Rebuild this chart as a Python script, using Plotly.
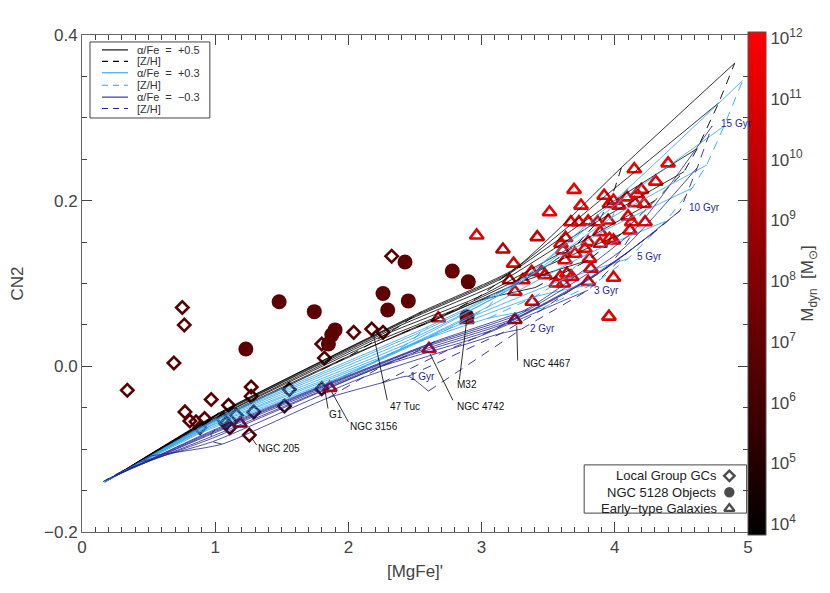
import plotly.graph_objects as go

FONT = "Liberation Sans"

# ---------------- data: Local Group globular clusters (open diamonds) ----------------
gc_x = [0.34, 0.69, 0.753, 0.768, 0.773, 0.81, 0.856, 0.886, 0.92, 0.97,
        1.06, 1.08, 1.10, 1.11, 1.16, 1.256, 1.27, 1.27, 1.29, 1.52,
        1.556, 1.80, 1.82, 1.80, 2.04, 2.175, 2.26, 2.325]
gc_y = [-0.029, 0.004, 0.071, 0.050, -0.055, -0.066, -0.067, -0.074, -0.063, -0.040,
        -0.064, -0.069, -0.047, -0.074, -0.059, -0.083, -0.025, -0.036, -0.055, -0.048,
        -0.028, 0.027, 0.010, -0.027, 0.041, 0.045, 0.041, 0.133]
gc_logm = [6.7, 6.7, 6.7, 6.7, 6.7, 6.6, 6.7, 6.5, 6.7, 6.7,
           6.2, 5.6, 6.3, 5.8, 5.5, 6.4, 6.6, 6.5, 5.4, 5.3,
           5.3, 6.7, 6.6, 5.6, 6.7, 6.5, 6.6, 6.7]

# ---------------- data: NGC 5128 objects (filled circles) ----------------
n5128_x = [1.23, 1.48, 1.744, 1.85, 1.875, 1.90, 2.26, 2.295, 2.425, 2.45, 2.78, 2.90, 2.89]
n5128_y = [0.021, 0.078, 0.066, 0.027, 0.038, 0.044, 0.088, 0.068, 0.126, 0.079, 0.115, 0.102, 0.060]
n5128_logm = [6.8, 6.8, 6.8, 6.8, 6.8, 6.8, 6.8, 6.8, 6.8, 6.9, 7.2, 6.9, 6.8]

# ---------------- data: early-type galaxies (open triangles) ----------------
etg_x = [4.40, 4.146, 4.307, 3.694, 3.92, 3.746, 3.51, 3.99, 4.03, 3.96,
         4.09, 4.165, 4.20, 4.22, 4.15, 3.67, 3.73, 3.80, 3.87, 3.95,
         4.10, 4.127, 4.227, 4.114, 3.418, 3.16, 3.63, 3.596, 3.61, 3.89,
         3.96, 3.80, 3.776, 3.89, 3.99, 3.70, 3.626, 3.81, 3.82, 3.24,
         3.376, 3.45, 3.476, 3.59, 3.64, 3.676, 3.614, 3.56, 3.80, 3.99,
         3.21, 3.31, 3.25, 3.38, 3.956, 3.25, 2.675, 2.89, 2.605, 2.963,
         1.86, 1.186]
etg_y = [0.245, 0.238, 0.223, 0.213, 0.206, 0.194, 0.186, 0.200, 0.194, 0.196,
         0.204, 0.208, 0.213, 0.196, 0.197, 0.174, 0.174, 0.175, 0.174, 0.176,
         0.181, 0.174, 0.174, 0.164, 0.156, 0.141, 0.155, 0.148, 0.140, 0.162,
         0.154, 0.150, 0.142, 0.148, 0.152, 0.136, 0.128, 0.130, 0.118, 0.124,
         0.114, 0.114, 0.110, 0.108, 0.112, 0.108, 0.100, 0.100, 0.102, 0.107,
         0.104, 0.104, 0.090, 0.078, 0.060, 0.056, 0.058, 0.056, 0.021, 0.158,
         -0.026, -0.069]
etg_logm = [11.6, 11.5, 11.4, 11.5, 11.3, 11.5, 11.4, 11.6, 11.5, 11.2,
            11.5, 11.6, 11.4, 11.5, 11.3, 11.5, 11.3, 11.5, 11.4, 11.2,
            11.4, 11.5, 11.6, 11.3, 10.3, 9.9, 11.2, 11.4, 11.5, 11.4,
            11.5, 11.3, 11.5, 11.2, 11.4, 11.5, 11.3, 11.5, 11.4, 11.0,
            11.2, 11.4, 11.1, 11.5, 11.4, 11.3, 11.5, 11.2, 11.4, 11.3,
            9.6, 11.0, 11.3, 10.6, 11.2, 9.0, 10.4, 9.2, 10.3, 11.3,
            10.2, 8.2]

# ---------------- data: SSP model grids ----------------
grid_ages = [1, 2, 3, 5, 8, 10, 12, 15]          # Gyr, one solid track each
grid_zh = [-2.25, -1.35, -0.33, 0.0, 0.35, 0.67]  # [Z/H] nodes along each track

# alpha/Fe = +0.5
p05_x = [[0.36, 0.88, 1.80, 2.40, 3.00, 3.40],
         [0.30, 0.90, 2.00, 2.65, 3.30, 3.80],
         [0.26, 0.92, 2.15, 2.82, 3.50, 4.05],
         [0.22, 0.95, 2.30, 2.98, 3.72, 4.30],
         [0.20, 0.98, 2.40, 3.10, 3.88, 4.52],
         [0.19, 1.00, 2.45, 3.15, 3.95, 4.62],
         [0.18, 1.02, 2.50, 3.20, 4.00, 4.78],
         [0.17, 1.05, 2.55, 3.25, 4.05, 4.90]]
p05_y = [[-0.122, -0.075, -0.004, 0.040, 0.080, 0.095],
         [-0.128, -0.072, 0.012, 0.056, 0.102, 0.128],
         [-0.132, -0.069, 0.026, 0.070, 0.122, 0.160],
         [-0.135, -0.066, 0.040, 0.084, 0.148, 0.200],
         [-0.137, -0.062, 0.050, 0.098, 0.176, 0.235],
         [-0.138, -0.060, 0.056, 0.106, 0.195, 0.263],
         [-0.139, -0.057, 0.061, 0.112, 0.215, 0.318],
         [-0.140, -0.055, 0.066, 0.118, 0.240, 0.366]]

# alpha/Fe = +0.3
p03_x = [[0.38, 0.90, 1.85, 2.50, 3.05, 3.45],
         [0.30, 0.92, 2.05, 2.75, 3.40, 3.85],
         [0.26, 0.94, 2.20, 2.90, 3.60, 4.10],
         [0.22, 0.97, 2.35, 3.05, 3.80, 4.38],
         [0.20, 0.99, 2.45, 3.12, 3.90, 4.58],
         [0.19, 1.00, 2.50, 3.20, 3.98, 4.69],
         [0.18, 1.03, 2.55, 3.25, 4.03, 4.82],
         [0.17, 1.05, 2.60, 3.30, 4.10, 4.96]]
p03_y = [[-0.122, -0.080, -0.020, 0.028, 0.058, 0.070],
         [-0.128, -0.077, -0.006, 0.045, 0.084, 0.100],
         [-0.132, -0.074, 0.006, 0.058, 0.104, 0.130],
         [-0.135, -0.071, 0.018, 0.072, 0.136, 0.175],
         [-0.137, -0.068, 0.028, 0.085, 0.162, 0.215],
         [-0.138, -0.066, 0.035, 0.092, 0.180, 0.243],
         [-0.139, -0.063, 0.042, 0.099, 0.198, 0.290],
         [-0.140, -0.060, 0.048, 0.105, 0.215, 0.345]]

# alpha/Fe = -0.3
m03_x = [[0.52, 1.05, 1.85, 2.25, 2.45, 2.60],
         [0.42, 0.98, 2.10, 2.75, 3.15, 3.30],
         [0.33, 0.96, 2.25, 2.95, 3.45, 3.80],
         [0.26, 0.97, 2.40, 3.10, 3.65, 4.10],
         [0.22, 0.97, 2.50, 3.18, 3.82, 4.32],
         [0.20, 0.98, 2.55, 3.25, 3.95, 4.49],
         [0.18, 0.99, 2.60, 3.30, 4.05, 4.62],
         [0.16, 1.00, 2.65, 3.35, 4.15, 4.73]]
m03_y = [[-0.108, -0.094, -0.038, -0.020, -0.012, -0.030],
         [-0.116, -0.091, -0.014, 0.020, 0.040, 0.045],
         [-0.124, -0.088, 0.000, 0.034, 0.068, 0.092],
         [-0.130, -0.085, 0.010, 0.045, 0.090, 0.138],
         [-0.134, -0.082, 0.017, 0.052, 0.106, 0.165],
         [-0.136, -0.080, 0.022, 0.058, 0.120, 0.188],
         [-0.137, -0.078, 0.026, 0.064, 0.140, 0.240],
         [-0.139, -0.076, 0.030, 0.070, 0.165, 0.290]]

# age labels (left start of text)
age_lab_text = ["1 Gyr", "2 Gyr", "3 Gyr", "5 Gyr", "10 Gyr", "15 Gyr"]
age_lab_x = [2.45, 3.35, 3.83, 4.15, 4.54, 4.78]
age_lab_y = [-0.012, 0.046, 0.092, 0.133, 0.192, 0.293]

# object labels: leader from (obj) to (lead end), text starting at (txt)
obj_lab_text = ["NGC 205", "G1", "NGC 3156", "47 Tuc", "NGC 4742", "M32", "NGC 4467"]
obj_x = [1.272, 1.824, 1.875, 2.185, 2.613, 2.888, 3.264]
obj_y = [-0.086, -0.029, -0.031, 0.041, 0.015, 0.055, 0.049]
lead_x = [1.311, 1.847, 2.000, 2.292, 2.785, 2.833, 3.271]
lead_y = [-0.095, -0.051, -0.067, -0.041, -0.041, -0.016, 0.007]
txt_x = [1.306, 1.840, 2.000, 2.297, 2.800, 2.800, 3.296]
txt_y = [-0.099, -0.058, -0.073, -0.048, -0.048, -0.022, 0.003]

mass_ticks = [4, 5, 6, 7, 8, 9, 10, 11, 12]

# ---------------- styles ----------------
C_BLACK = "#000000"
C_LBLUE = "#2aa5f5"
C_NAVY = "#26268f"
CMIN, CMAX = 3.82, 12.1
CSCALE = [[0, "#000000"], [1, "#ff0000"]]

fig = go.Figure()

# markers first
fig.add_trace(go.Scatter(
    x=gc_x, y=gc_y, mode="markers", showlegend=False, hoverinfo="skip",
    marker=dict(symbol="diamond-open", size=9.5, color=gc_logm, cmin=CMIN, cmax=CMAX,
                colorscale=CSCALE, line=dict(width=2.6))))
fig.add_trace(go.Scatter(
    x=n5128_x, y=n5128_y, mode="markers", showlegend=False, hoverinfo="skip",
    marker=dict(symbol="circle", size=15, color=n5128_logm, cmin=CMIN, cmax=CMAX,
                colorscale=CSCALE, line=dict(width=0))))
fig.add_trace(go.Scatter(
    x=etg_x, y=etg_y, mode="markers", showlegend=False, hoverinfo="skip",
    marker=dict(symbol="triangle-up-open", size=12, color=etg_logm, cmin=CMIN, cmax=CMAX,
                colorscale=CSCALE, line=dict(width=2.6), showscale=True,
                colorbar=dict(
                    x=1.0, xanchor="left", xpad=0, thickness=18, thicknessmode="pixels",
                    len=503, lenmode="pixels", y=0.5, yanchor="middle", ypad=0,
                    tickvals=mass_ticks,
                    ticktext=["10<sup>%d</sup>" % m for m in mass_ticks],
                    ticks="", outlinewidth=1, outlinecolor="#555",
                    tickfont=dict(family=FONT, size=17, color="#444"),
                    title=dict(text="M<sub>dyn</sub>  [M<sub>\u2299</sub>]", side="right",
                               font=dict(family=FONT, size=17, color="#444"))))))

# model grids on top
for gx, gy, col in [(p05_x, p05_y, C_BLACK), (p03_x, p03_y, C_LBLUE), (m03_x, m03_y, C_NAVY)]:
    for i in range(len(grid_ages)):
        fig.add_trace(go.Scatter(x=gx[i], y=gy[i], mode="lines", showlegend=False,
                                 hoverinfo="skip", line=dict(color=col, width=0.8,
                                                             shape="spline", smoothing=0.5)))
    for j in range(len(grid_zh)):
        fig.add_trace(go.Scatter(x=[r[j] for r in gx], y=[r[j] for r in gy], mode="lines",
                                 showlegend=False, hoverinfo="skip",
                                 line=dict(color=col, width=0.9, dash="9px,7px")))

# legend symbols for bottom-right box (on an overlay unit axis)
fig.add_trace(go.Scatter(
    x=[0.972, 0.972, 0.972], y=[0.113, 0.080, 0.047], xaxis="x2", yaxis="y2",
    mode="markers", showlegend=False, hoverinfo="skip",
    marker=dict(symbol=["diamond-open", "circle", "triangle-up-open"], size=[8, 8, 9],
                color="#000", line=dict(width=2.4, color="#000"))))

annotations = []
shapes = []

# age labels
for t, ax_, ay_ in zip(age_lab_text, age_lab_x, age_lab_y):
    annotations.append(dict(x=ax_, y=ay_, text=t, showarrow=False, xanchor="left",
                            yanchor="middle", font=dict(family=FONT, size=10, color=C_NAVY)))

# object labels + leaders
for t, ox, oy, lx, ly, tx, ty in zip(obj_lab_text, obj_x, obj_y, lead_x, lead_y, txt_x, txt_y):
    shapes.append(dict(type="line", xref="x", yref="y", x0=ox, y0=oy, x1=lx, y1=ly,
                       line=dict(color="#000", width=0.8)))
    annotations.append(dict(x=tx, y=ty, text=t, showarrow=False, xanchor="left",
                            yanchor="middle", font=dict(family=FONT, size=10, color="#111")))

# top-left legend (paper coords)
shapes.append(dict(type="rect", xref="paper", yref="paper", x0=0.012, x1=0.192,
                   y0=0.833, y1=0.986, line=dict(color="#444", width=1),
                   fillcolor="white", layer="below"))
leg1_rows = [0.970, 0.947, 0.924, 0.899, 0.875, 0.852]
leg1_cols = [C_BLACK, C_BLACK, C_LBLUE, C_LBLUE, C_NAVY, C_NAVY]
leg1_dash = ["solid", "6px,5px", "solid", "6px,5px", "solid", "6px,5px"]
nb = "\u00a0"
leg1_text = ["\u03b1/Fe" + nb * 2 + "=" + nb * 2 + "+0.5", "[Z/H]",
             "\u03b1/Fe" + nb * 2 + "=" + nb * 2 + "+0.3", "[Z/H]",
             "\u03b1/Fe" + nb * 2 + "=" + nb * 2 + "\u22120.3", "[Z/H]"]
for yy, cc, dd, tt in zip(leg1_rows, leg1_cols, leg1_dash, leg1_text):
    shapes.append(dict(type="line", xref="paper", yref="paper", x0=0.030, x1=0.069,
                       y0=yy, y1=yy, line=dict(color=cc, width=1.1, dash=dd)))
    annotations.append(dict(xref="paper", yref="paper", x=0.079, y=yy, text=tt,
                            showarrow=False, xanchor="left", yanchor="middle",
                            font=dict(family=FONT, size=11, color="#333")))

# bottom-right legend
shapes.append(dict(type="rect", xref="paper", yref="paper", x0=0.754, x1=0.998,
                   y0=0.038, y1=0.135, line=dict(color="#444", width=1),
                   fillcolor="white", layer="below"))
for yy, tt in zip([0.113, 0.080, 0.047], ["Local Group GCs", "NGC 5128 Objects",
                                          "Early\u2212type Galaxies"]):
    annotations.append(dict(xref="paper", yref="paper", x=0.957, y=yy, text=tt,
                            showarrow=False, xanchor="right", yanchor="middle",
                            font=dict(family=FONT, size=13, color="#222")))

axis_common = dict(showgrid=False, zeroline=False, showline=True, linecolor="#666",
                   linewidth=1, mirror="ticks", ticks="inside", ticklen=10, tickwidth=1,
                   tickcolor="#444", automargin=False,
                   tickfont=dict(family=FONT, size=17, color="#444"))

# the page adds an 8px body margin, so the figure is 8px smaller than the window
fig.update_layout(
    width=822, height=585,
    margin=dict(l=74, r=82, t=27, b=61, autoexpand=False),
    paper_bgcolor="white", plot_bgcolor="white",
    showlegend=False,
    xaxis=dict(range=[0, 5], tick0=0, dtick=1,
               minor=dict(ticks="inside", dtick=0.1, ticklen=5, tickcolor="#444"),
               title=dict(text="[MgFe]'", font=dict(family=FONT, size=17, color="#444"),
                          standoff=8),
               **axis_common),
    yaxis=dict(range=[-0.2, 0.4], tick0=-0.2, dtick=0.2, tickformat=".1f",
               minor=dict(ticks="inside", dtick=0.05, ticklen=5, tickcolor="#444"),
               title=dict(text="CN2", font=dict(family=FONT, size=17, color="#444"),
                          standoff=28),
               **axis_common),
    xaxis2=dict(overlaying="x", range=[0, 1], visible=False, fixedrange=True),
    yaxis2=dict(overlaying="y", range=[0, 1], visible=False, fixedrange=True),
    annotations=annotations,
    shapes=shapes,
)

fig.write_html("out.html")
